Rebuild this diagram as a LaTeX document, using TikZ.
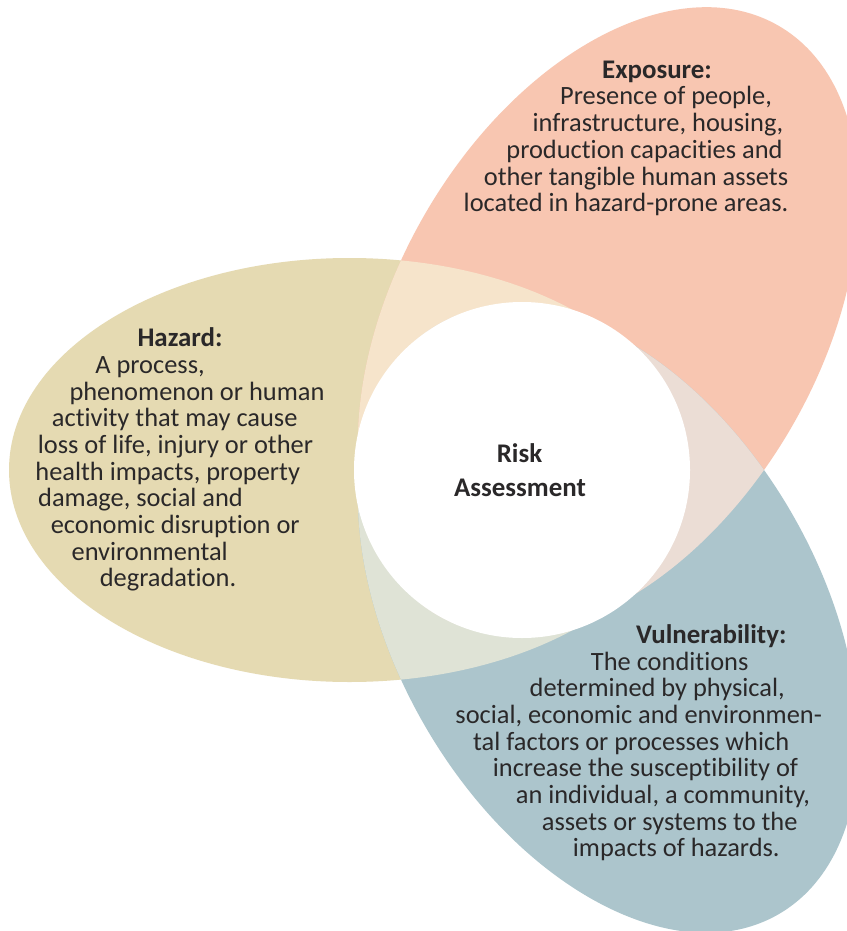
\documentclass[tikz,border=0pt]{standalone}
\usepackage{fontspec}
\setmainfont{Carlito}[Ligatures=NoCommon]
\definecolor{hazcol}{HTML}{E5DAB2}
\definecolor{expcol}{HTML}{F8C6B1}
\definecolor{vulcol}{HTML}{ACC5CC}
\definecolor{hecol}{HTML}{F6E4CB}
\definecolor{hvcol}{HTML}{DFE3D6}
\definecolor{evcol}{HTML}{EBDDD5}
\definecolor{textcol}{HTML}{2A2829}
\begin{document}
\begin{tikzpicture}[x=1pt,y=-1pt,
  txt/.style={anchor=base, inner sep=0pt, text=textcol, font=\fontsize{26.4}{26.7}\selectfont},
  ttl/.style={txt, font=\fontsize{26.9}{26.7}\selectfont\bfseries},
  expo/.style={rotate around={-120:(522,470)}},
  vuln/.style={rotate around={120:(522,470)}}]
\useasboundingbox (0,0) rectangle (846,931);
\fill[white] (0,0) rectangle (846,931);
\def\haz{(349.5,470) ellipse [x radius=340.5, y radius=212]}
% single sets
\fill[hazcol] \haz;
\fill[expcol, expo] \haz;
\fill[vulcol, vuln] \haz;
% pairwise overlaps
\begin{scope}
  \clip \haz;
  \fill[hecol, expo] \haz;
\end{scope}
\begin{scope}
  \clip \haz;
  \fill[hvcol, vuln] \haz;
\end{scope}
\begin{scope}
  \clip[expo] \haz;
  \fill[evcol, vuln] \haz;
\end{scope}
% centre circle
\node[circle, fill=white, minimum size=336pt, inner sep=0pt] (c) at (522,470) {};
\node[ttl] (r1) at (519.5,462.7) {Risk};
\node[ttl] (r2) at (520,496.7) {Assessment};
% exposure
\node[ttl] (e0) at (657,78.3) {Exposure:};
\node[txt] (e1) at (666,105) {Presence of people,};
\node[txt] (e2) at (658,131.7) {infrastructure, housing,};
\node[txt] (e3) at (644.5,158.3) {production capacities and};
\node[txt] (e4) at (636,185) {other tangible human assets};
\node[txt] (e5) at (626,211.7) {located in hazard-prone areas.};
% hazard
\node[ttl] (h0) at (180,346.7) {Hazard:};
\node[txt] (h1) at (150,373.3) {A process,};
\node[txt] (h2) at (197,400) {phenomenon or human};
\node[txt] (h3) at (174.7,426.7) {activity that may cause};
\node[txt] (h4) at (175.5,453.3) {loss of life, injury or other};
\node[txt] (h5) at (167.7,480) {health impacts, property};
\node[txt] (h6) at (140.5,506.7) {damage, social and};
\node[txt] (h7) at (175.3,533.3) {economic disruption or};
\node[txt] (h8) at (149.7,560) {environmental};
\node[txt] (h9) at (168,586.7) {degradation.};
% vulnerability
\node[ttl] (v0) at (711.3,643.3) {Vulnerability:};
\node[txt] (v1) at (669.7,670) {The conditions};
\node[txt] (v2) at (657.2,696.7) {determined by physical,};
\node[txt] (v3) at (638.7,723.3) {social, economic and environmen-};
\node[txt] (v4) at (631.2,750) {tal factors or processes which};
\node[txt] (v5) at (645.5,776.7) {increase the susceptibility of};
\node[txt] (v6) at (663,803.3) {an individual, a community,};
\node[txt] (v7) at (669.7,830) {assets or systems to the};
\node[txt] (v8) at (676.3,856.7) {impacts of hazards.};
\end{tikzpicture}
\end{document}
